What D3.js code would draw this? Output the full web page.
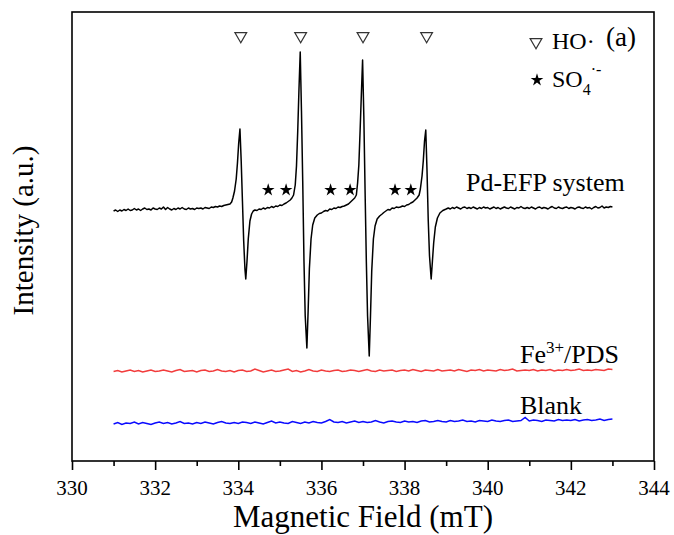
<!DOCTYPE html>
<html>
<head>
<meta charset="utf-8">
<script src="https://cdn.jsdelivr.net/npm/d3@7"></script>
<style>
  body { margin: 0; background: #fff; }
  svg { display: block; }
  .tnr { font-family: "Liberation Serif"; }
</style>
</head>
<body>
<div id="chart"></div>
<script>
// ---- data (magnetic field in mT, intensity in a.u.) ----
const pdEfp = [
  [331.00,250],[331.05,251],[331.10,249.5],[331.15,251],[331.20,250],[331.25,251.5],[331.30,250.5],[331.35,252],
  [331.40,250.5],[331.45,251],[331.50,252.5],[331.55,251],[331.60,252],[331.65,250.5],[331.70,252],[331.75,253],
  [331.80,251.5],[331.85,252],[331.90,251],[331.95,253],[332.00,252],[332.05,251.5],[332.10,253],[332.15,252],
  [332.20,254],[332.25,251.5],[332.30,253.5],[332.35,252],[332.40,251],[332.45,252.5],[332.50,251.5],[332.55,253],
  [332.60,252],[332.65,253.5],[332.70,252],[332.75,251.5],[332.80,253],[332.85,252],[332.90,252.5],[332.95,251.5],
  [333.00,253],[333.05,252.5],[333.10,253],[333.15,252],[333.20,253.5],[333.25,253],[333.30,252.5],[333.35,254],
  [333.40,253.5],[333.45,254.5],[333.50,254],[333.55,255],[333.60,254.5],[333.65,255.5],[333.70,256],[333.75,256.5],
  [333.80,257],
  // line 1
  [333.84,259],[333.87,263],[333.91,270],[333.95,282],[333.98,298],[334.01,318],[334.04,332],[334.07,300],
  [334.10,260],[334.13,220],[334.16,192],[334.18,182],[334.21,200],[334.24,222],[334.28,240],[334.32,247],
  [334.36,250],[334.40,251],
  [334.45,250.5],[334.50,252],[334.55,251.5],[334.60,253],[334.65,252],[334.70,253.5],[334.75,253],[334.80,254.5],
  [334.85,253.5],[334.90,255],[334.95,254.5],[335.00,256],[335.05,255.5],[335.10,257],[335.15,258],[335.20,259.5],
  [335.25,261],[335.29,263],[335.33,266],
  // line 2
  [335.37,276],[335.40,295],[335.43,330],[335.46,372],[335.49,409],[335.52,350],[335.55,280],[335.58,200],
  [335.61,145],[335.65,113],[335.68,150],[335.71,192],[335.75,222],[335.79,236],[335.84,243],[335.90,246],
  [335.95,247.5],
  [336.00,248],[336.05,249.5],[336.10,250.5],[336.15,250],[336.20,252],[336.25,251.5],[336.30,253],[336.35,252.5],
  [336.40,254],[336.45,253.5],[336.50,254.5],[336.55,255],[336.60,256],[336.65,257],[336.70,259],[336.75,261],
  [336.80,263],[336.84,266],
  // line 3
  [336.87,278],[336.90,296],[336.93,330],[336.96,366],[336.99,401],[337.02,345],[337.05,270],[337.08,200],
  [337.11,145],[337.15,105],[337.18,145],[337.21,190],[337.25,222],[337.29,235],[337.34,242],[337.40,245],
  [337.46,247],
  [337.50,248.5],[337.55,250],[337.60,251.5],[337.65,251],[337.70,253],[337.75,252.5],[337.80,254],[337.85,253.5],
  [337.90,254],[337.95,255],[338.00,254.5],[338.05,256],[338.10,256.5],[338.15,258],[338.20,259],[338.25,261],
  [338.30,263],[338.35,266],
  // line 4
  [338.38,272],[338.42,285],[338.45,300],[338.48,320],[338.51,331],[338.54,290],[338.57,240],[338.60,205],
  [338.64,182],[338.67,200],[338.70,218],[338.74,234],[338.79,243],[338.85,248],[338.92,250.5],[339.00,252],
  [339.05,253],[339.10,252],[339.15,253.5],[339.20,252.5],[339.25,254],[339.30,253],[339.35,252],[339.40,253.5],
  [339.45,254],[339.50,252.5],[339.55,253.5],[339.60,252.5],[339.65,254],[339.70,253],[339.75,252],[339.80,253.5],
  [339.85,252.5],[339.90,254],[339.95,253],[340.00,253.5],[340.05,252],[340.10,253],[340.15,254],[340.20,252.5],
  [340.25,253.5],[340.30,252],[340.35,253],[340.40,254],[340.45,253],[340.50,252.5],[340.55,254],[340.60,253],
  [340.65,252],[340.70,253.5],[340.75,253],[340.80,254.5],[340.85,253],[340.90,252.5],[340.95,253.5],[341.00,252.5],
  [341.05,254],[341.10,253],[341.15,252],[341.20,253.5],[341.25,254],[341.30,252.5],[341.35,253.5],[341.40,253],
  [341.45,252],[341.50,253.5],[341.55,254.5],[341.60,253],[341.65,252.5],[341.70,254],[341.75,253],[341.80,252.5],
  [341.85,253.5],[341.90,254],[341.95,252.5],[342.00,253.5],[342.05,253],[342.10,252],[342.15,253.5],[342.20,254],
  [342.25,253],[342.30,252.5],[342.35,254],[342.40,253],[342.45,253.5],[342.50,252],[342.55,253.5],[342.60,254.5],
  [342.65,253],[342.70,253.5],[342.75,255],[342.80,253],[342.85,254],[342.90,253.5],[342.95,254.5],[343.00,254]
];

// Fe3+/PDS and Blank sampled every 0.1 mT from 331.0 to 343.0
const baseStart = 331.0;
const baseStep = 0.1;
const fePds = [
  89.5, 90.5, 89, 90, 91, 89.5, 90.5, 89, 90, 91,
  89.5, 90, 91, 90, 89, 90.5, 91.5, 89.5, 90, 90.5,
  89, 90.5, 91, 89.5, 90, 91.5, 90, 89.5, 90.5, 89,
  90.5, 91, 89.5, 90, 92, 90.5, 89, 90, 91, 89.5,
  90, 91, 92, 89.5, 90.5, 89, 90, 91.5, 90, 89.5,
  91, 90, 89.5, 90.5, 91, 89.5, 90, 91, 90.5, 89.5,
  90.5, 91.5, 90, 89.5, 91, 90, 90.5, 91, 89.5, 90.5,
  91, 90, 91.5, 90.5, 89.5, 91, 90.5, 90, 91.5, 90,
  90.5, 91, 90, 91.5, 90.5, 89.5, 91, 90.5, 91.5, 90,
  91, 90.5, 90, 91.5, 90.5, 91, 92, 90, 90.5, 91,
  90.5, 91.5, 90, 91, 90.5, 91.5, 90, 91, 90.5, 91.5,
  90.5, 91, 92, 90.5, 91, 90.5, 91.5, 91, 90.5, 92,
  91.5
];
const blank = [
  37, 38.5, 36.5, 38, 37.5, 39, 37, 38.5, 37.5, 36.5,
  38, 39, 37.5, 38.5, 37, 38, 39.5, 37.5, 38, 37,
  38.5, 37.5, 39, 38, 37, 38.5, 39.5, 38, 37.5, 38.5,
  37.5, 39, 38.5, 37.5, 39, 38, 37, 38.5, 40, 38,
  39, 38, 37.5, 39.5, 38.5, 37.5, 39, 38, 39.5, 38.5,
  38, 39.5, 41.5, 39, 38.5, 39.5, 38, 39, 40, 38.5,
  39.5, 38.5, 39, 40.5, 39, 38, 39.5, 40, 39, 38.5,
  40, 39, 39.5, 38.5, 40, 40.5, 39, 39.5, 40.5, 39.5,
  39, 40.5, 39.5, 40, 41, 39.5, 40, 39, 40.5, 40,
  39.5, 41, 40, 39.5, 40.5, 41, 39.5, 40, 40.5, 43.5,
  40, 41, 40.5, 39.5, 41, 40.5, 40, 41.5, 40.5, 41,
  40.5, 41.5, 40, 41, 41.5, 40.5, 41, 42, 40.5, 41.5,
  42
];

const hoPeaks = [334.06, 335.50, 337.00, 338.53];
const so4Peaks = [334.72, 335.15, 336.22, 336.69, 337.77, 338.15];
const xMajorTicks = [330, 332, 334, 336, 338, 340, 342, 344];
const xMinorTicks = [331, 333, 335, 337, 339, 341, 343];

// ---- layout ----
const width = 674;
const height = 535;
const margin = { top: 12, right: 20, bottom: 74, left: 72 };
const innerW = width - margin.left - margin.right;
const innerH = height - margin.top - margin.bottom;

const svg = d3.select('#chart')
  .append('svg')
  .attr('width', width)
  .attr('height', height);

const g = svg.append('g')
  .attr('transform', 'translate(' + margin.left + ',' + margin.top + ')');

const x = d3.scaleLinear().domain([330, 344]).range([0, innerW]);
const y = d3.scaleLinear().domain([0, 449]).range([innerH, 0]);

// x axis ticks (labels drawn separately below)
const xAxis = g.append('g')
  .attr('transform', 'translate(0,' + innerH + ')')
  .call(d3.axisBottom(x).tickValues(xMajorTicks).tickSize(9).tickFormat(''));
xAxis.select('.domain').remove();
xAxis.selectAll('line').attr('stroke-width', 1.6);

const xMinor = g.append('g')
  .attr('transform', 'translate(0,' + innerH + ')')
  .call(d3.axisBottom(x).tickValues(xMinorTicks).tickSize(5).tickFormat(''));
xMinor.select('.domain').remove();
xMinor.selectAll('line').attr('stroke-width', 1.6);

// tick labels
g.selectAll('.xlab')
  .data(xMajorTicks)
  .enter()
  .append('text')
  .attr('class', 'tnr')
  .attr('x', function (d) { return x(d); })
  .attr('y', innerH + 34)
  .attr('text-anchor', 'middle')
  .style('font-size', '21px')
  .text(function (d) { return d; });

// spectra
const line = d3.line()
  .x(function (d) { return x(d[0]); })
  .y(function (d) { return y(d[1]); });

const toPairs = function (vals) {
  return vals.map(function (v, i) { return [baseStart + i * baseStep, v]; });
};

g.append('path')
  .datum(toPairs(blank))
  .attr('d', line)
  .attr('fill', 'none')
  .attr('stroke', '#0a0aff')
  .attr('stroke-width', 1.5);

g.append('path')
  .datum(toPairs(fePds))
  .attr('d', line)
  .attr('fill', 'none')
  .attr('stroke', '#f23c3c')
  .attr('stroke-width', 1.5);

g.append('path')
  .datum(pdEfp)
  .attr('d', line)
  .attr('fill', 'none')
  .attr('stroke', '#000')
  .attr('stroke-width', 1.5)
  .attr('stroke-linejoin', 'round');

// peak markers
const tri = d3.symbol().type(d3.symbolTriangle).size(60);
const star = d3.symbol().type(d3.symbolStar).size(50);

g.selectAll('.ho')
  .data(hoPeaks)
  .enter()
  .append('path')
  .attr('class', 'ho')
  .attr('d', tri)
  .attr('transform', function (d) { return 'translate(' + x(d) + ',24) rotate(180)'; })
  .attr('fill', 'none')
  .attr('stroke', '#333')
  .attr('stroke-width', 1.2);

g.selectAll('.so4')
  .data(so4Peaks)
  .enter()
  .append('path')
  .attr('class', 'so4')
  .attr('d', star)
  .attr('transform', function (d) { return 'translate(' + x(d) + ',178)'; })
  .attr('fill', '#000');

// frame
g.append('rect')
  .attr('width', innerW)
  .attr('height', innerH)
  .attr('fill', 'none')
  .attr('stroke', '#000')
  .attr('stroke-width', 1.6);

const addText = function (parent, px, py, size) {
  return parent.append('text')
    .attr('class', 'tnr')
    .attr('x', px)
    .attr('y', py)
    .style('font-size', size + 'px');
};

// legend
g.append('path')
  .attr('d', tri)
  .attr('transform', 'translate(464,30) rotate(180)')
  .attr('fill', 'none')
  .attr('stroke', '#333')
  .attr('stroke-width', 1.2);
addText(g, 480, 37, 24).text('HO·');
addText(g, 534, 34, 27).text('(a)');

g.append('path')
  .attr('d', star)
  .attr('transform', 'translate(465,68)');
const so4Label = addText(g, 480, 75, 24);
so4Label.append('tspan').text('SO');
so4Label.append('tspan').style('font-size', '16px').attr('dy', 8).text('4');
so4Label.append('tspan').style('font-size', '16px').attr('dy', -20).text('·-');

// series labels
addText(g, 394, 179, 26).text('Pd-EFP system');
const feLabel = addText(g, 448, 351, 26);
feLabel.append('tspan').text('Fe');
feLabel.append('tspan').style('font-size', '17px').attr('dy', -10).text('3+');
feLabel.append('tspan').attr('dy', 10).text('/PDS');
addText(g, 448, 402, 26).text('Blank');

// axis titles
addText(svg, margin.left + innerW / 2, 527, 31)
  .attr('text-anchor', 'middle')
  .text('Magnetic Field (mT)');

svg.append('text')
  .attr('class', 'tnr')
  .attr('transform', 'translate(33,' + (margin.top + innerH / 2 - 6) + ') rotate(-90)')
  .attr('text-anchor', 'middle')
  .style('font-size', '29px')
  .text('Intensity (a.u.)');
</script>
</body>
</html>
